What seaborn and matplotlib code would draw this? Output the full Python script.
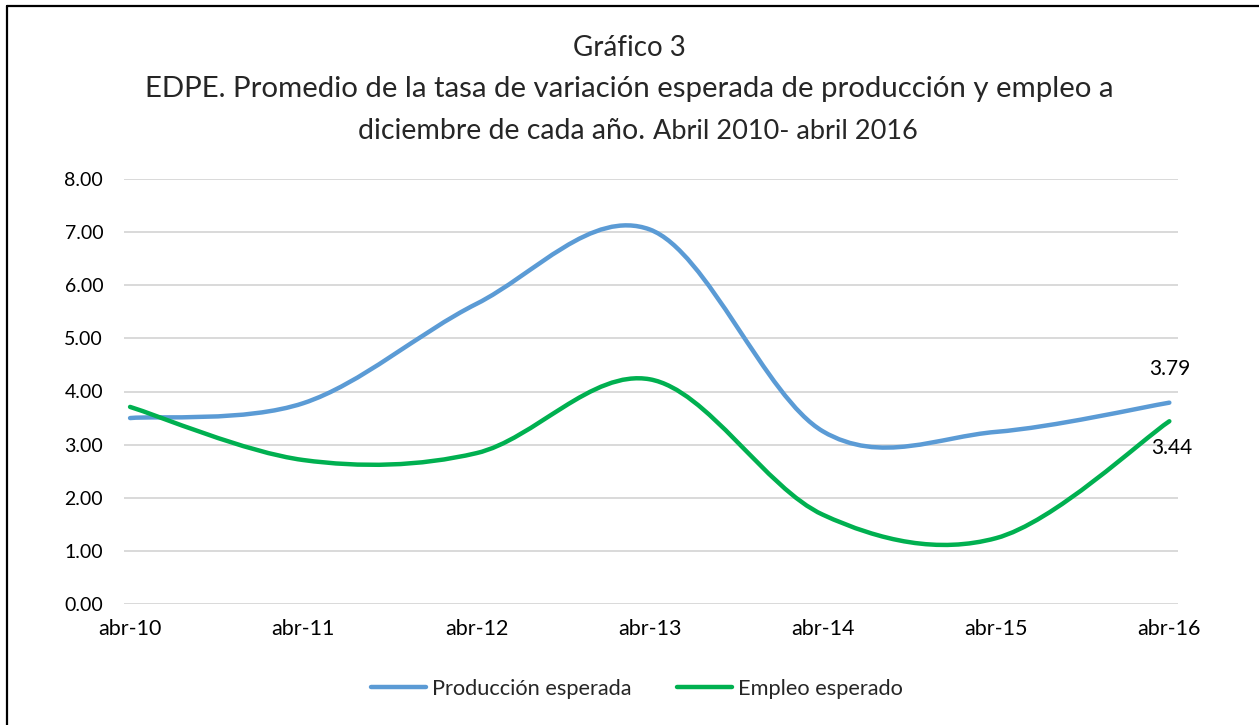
# =========================
# IMPORTS
# =========================
import numpy as np
import pandas as pd
import matplotlib
matplotlib.use("Agg")
import matplotlib.pyplot as plt
import seaborn as sns
from matplotlib.path import Path
from matplotlib.patches import PathPatch
from matplotlib.lines import Line2D


# =========================
# DATA
# =========================
periodos   = ["abr-10", "abr-11", "abr-12", "abr-13", "abr-14", "abr-15", "abr-16"]
produccion = [3.50, 3.78, 5.65, 7.05, 3.25, 3.24, 3.79]
empleo     = [3.71, 2.71, 2.84, 4.23, 1.68, 1.24, 3.44]
y_ticks    = [0, 1, 2, 3, 4, 5, 6, 7, 8]

SERIES = ["Producción esperada", "Empleo esperado"]
COLORS = {"Producción esperada": "#5B9BD5", "Empleo esperado": "#00B050"}

df = pd.DataFrame({
    "periodo": periodos * 2,
    "pos": list(range(len(periodos))) * 2,
    "valor": produccion + empleo,
    "serie": [SERIES[0]] * len(periodos) + [SERIES[1]] * len(periodos),
})


# =========================
# SMOOTH LINE (Excel-like bezier)
# =========================
def smooth_path(x, y):
    pts = np.column_stack([x, y])
    n = len(pts)
    verts = [pts[0]]
    codes = [Path.MOVETO]
    for i in range(n - 1):
        p_prev = pts[i - 1] if i > 0 else pts[i]
        p_next = pts[i + 2] if i + 2 < n else pts[i + 1]
        c1 = pts[i] + (pts[i + 1] - p_prev) / 6
        c2 = pts[i + 1] - (p_next - pts[i]) / 6
        verts += [c1, c2, pts[i + 1]]
        codes += [Path.CURVE4] * 3
    return Path(verts, codes)


# =========================
# FIGURE
# =========================
sns.set_theme(style="white")
plt.rcParams["font.family"] = ["Lato", "DejaVu Sans"]

W, H = 1259, 725
fig = plt.figure(figsize=(W / 100, H / 100), dpi=100)
ax = fig.add_axes([124 / W, 1 - 604 / H, (1178 - 124) / W, (604 - 179) / H])

sns.lineplot(data=df, x="pos", y="valor", hue="serie", hue_order=SERIES,
             palette=COLORS, linewidth=3, ax=ax, legend=False)

for line in list(ax.lines):
    x, y = line.get_data()
    ax.add_patch(PathPatch(smooth_path(x, y), facecolor="none",
                           edgecolor=line.get_color(), lw=3.2,
                           capstyle="round", joinstyle="round", zorder=3))
    line.set_visible(False)

# data labels on last point
ax.annotate(f"{produccion[-1]:.2f}", (len(periodos) - 1, produccion[-1]),
            xytext=(0, 24), textcoords="offset points",
            ha="center", va="center", fontsize=15, color="#000000")
ax.annotate(f"{empleo[-1]:.2f}", (len(periodos) - 1, empleo[-1]),
            xytext=(2, -19), textcoords="offset points",
            ha="center", va="center", fontsize=15, color="#000000")

# =========================
# AXES
# =========================
ax.set_xlim(-0.035, len(periodos) - 1 + 0.05)
ax.set_ylim(0, 8)
ax.set_xticks(range(len(periodos)))
ax.set_xticklabels(periodos)
ax.set_yticks(y_ticks)
ax.set_yticklabels([f"{v:.2f}" for v in y_ticks])
ax.tick_params(axis="both", length=0, colors="#000000")
ax.tick_params(axis="y", pad=15, labelsize=14)
ax.tick_params(axis="x", pad=11, labelsize=15.5)
ax.set_xlabel("")
ax.set_ylabel("")
ax.yaxis.grid(True, color="#D9D9D9", lw=1.4)
ax.xaxis.grid(False)
ax.set_axisbelow(True)
for s in ax.spines.values():
    s.set_visible(False)

# =========================
# TITLE
# =========================
fig.text(0.5, 1 - 56 / H, "Gráfico 3", ha="center", va="baseline", fontsize=20)
fig.text(0.5, 1 - 97 / H,
         "EDPE. Promedio de la tasa de variación esperada de producción y empleo a",
         ha="center", va="baseline", fontsize=21.2)

t1 = fig.text(0, 1 - 139 / H, "diciembre de cada año. ", ha="left", va="baseline", fontsize=20.5)
t2 = fig.text(0, 1 - 139 / H, "Abril 2010- abril 2016", ha="left", va="baseline", fontsize=19.5)
fig.canvas.draw()
r = fig.canvas.get_renderer()
w1 = t1.get_window_extent(r).width
w2 = t2.get_window_extent(r).width
x0 = 638 - (w1 + w2) / 2
t1.set_x(x0 / W)
t2.set_x((x0 + w1) / W)

# =========================
# LEGEND
# =========================
handles = [Line2D([0], [0], color=COLORS[s], lw=3.2, solid_capstyle="round") for s in SERIES]
fig.legend(handles, SERIES, loc="center", bbox_to_anchor=(637 / W, 1 - 689 / H),
           ncol=2, frameon=False, fontsize=15.7, handlelength=2.5,
           handletextpad=0.28, columnspacing=2.1)

# =========================
# BORDER
# =========================
fig.add_artist(Line2D([6.5 / W, 6.5 / W], [0, 1 - 5.5 / H], color="black", lw=1.6,
                      transform=fig.transFigure))
fig.add_artist(Line2D([6.5 / W, 1], [1 - 5.5 / H, 1 - 5.5 / H], color="black", lw=1.6,
                      transform=fig.transFigure))

fig.savefig("out.png", dpi=100, facecolor="white")
